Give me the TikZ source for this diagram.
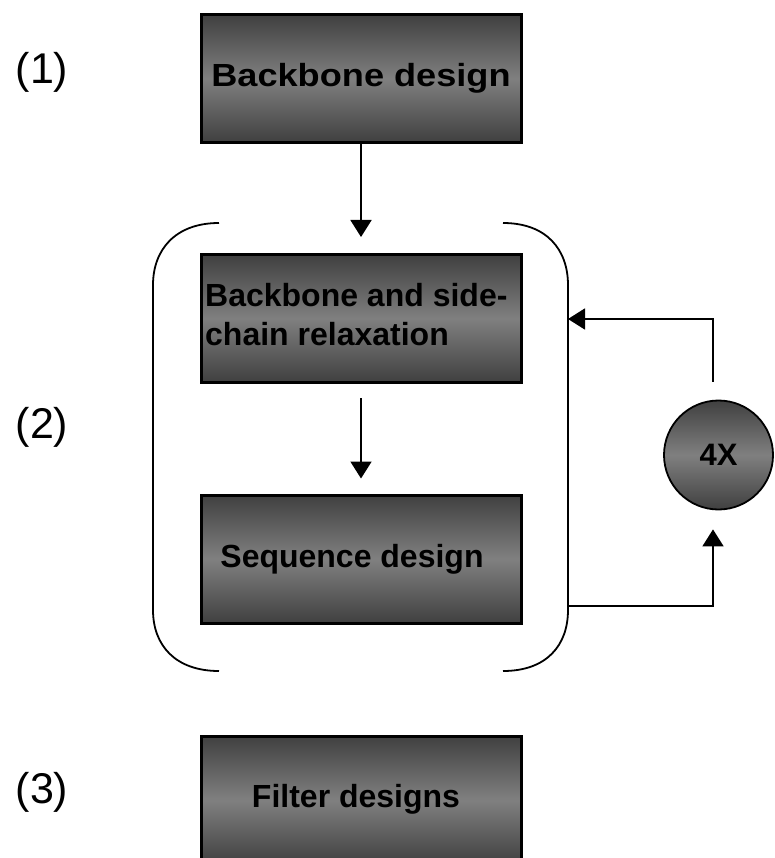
\documentclass[tikz,border=0pt]{standalone}
\usepackage{fontspec}
\setmainfont{Liberation Sans}
\usetikzlibrary{arrows.meta}
\tikzset{
  stage/.style={draw=black, line width=3pt, minimum width=320pt, minimum height=128pt,
    top color=black!75, bottom color=black!75, middle color=black!50,
    font=\fontsize{32}{39}\selectfont\bfseries, inner sep=0pt},
  stage text/.style={font=\fontsize{32}{39}\selectfont\bfseries, inner sep=0pt, align=left},
  counter/.style={circle, draw=black, line width=1.8pt, minimum size=109pt,
    top color=black!75, bottom color=black!75, middle color=black!50,
    font=\fontsize{31}{36}\selectfont\bfseries, inner sep=0pt},
  step label/.style={font=\fontsize{43}{50}\selectfont},
  bracket/.style={line width=1.8pt},
}
\begin{document}
\begin{tikzpicture}[x=1pt, y=-1pt]
  \useasboundingbox (0,0) rectangle (774,858);
  % stages
  \node[stage] (backbone) at (361,78.5) {\scalebox{1.13}[1]{Backbone design}};
  \node[stage] (relax) at (361,318.5) {};
  \node[stage text, anchor=north west] (relaxtext) at (205,283) {Backbone and side-\\chain relaxation};
  \node[stage] (seq) at (361,559) {\raisebox{5pt}{Sequence design\hspace{18pt}}};
  \node[stage] (filter) at (361,800) {\raisebox{8pt}{Filter designs\hspace{10pt}}};
  \node[counter] (loop) at (718.5,455) {4X};
  % step numbers
  \node[step label] (s1) at (42,72) {(1)};
  \node[step label] (s2) at (42,427) {(2)};
  \node[step label] (s3) at (42,792) {(3)};
  % brackets round step 2
  \draw[bracket] (219,223) .. controls (175,223) and (153,250) .. (153,285)
    -- (153,610) .. controls (153,645) and (175,671) .. (219,671);
  \draw[bracket] (503,223) .. controls (547,223) and (568,250) .. (568,285)
    -- (568,610) .. controls (568,645) and (547,671) .. (503,671);
  \coordinate (loopout) at (568,606);
  \coordinate (loopin) at (568,319);
  \begin{scope}[line width=1.8pt, -{Triangle[length=17pt,width=21pt]}]
    \draw[shorten >=16pt] (backbone) -- (relax);
    \draw[shorten <=14pt, shorten >=15pt] (relax) -- (seq);
    \draw[shorten >=19pt] (loopout) -| ([xshift=-5.5pt]loop.south);
    \draw[shorten <=18pt] ([xshift=-5.5pt]loop.north) |- (loopin);
  \end{scope}
\end{tikzpicture}
\end{document}
